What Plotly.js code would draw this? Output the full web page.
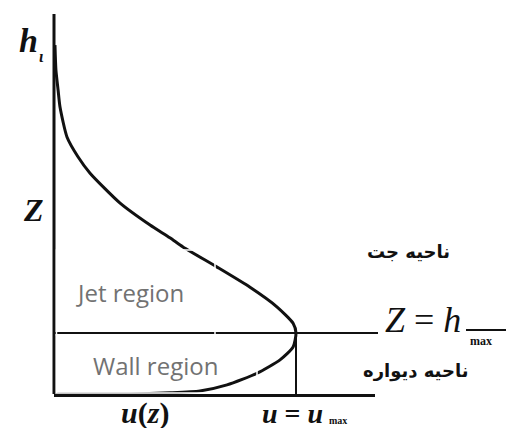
<!DOCTYPE html>
<html>
<head>
<meta charset="utf-8">
<script src="https://cdn.plot.ly/plotly-3.0.1.min.js"></script>
<style>html,body{margin:0;padding:0;background:#fff;}#chart{width:506px;height:428px;}</style>
</head>
<body>
<div id="chart"></div>
<script>
// Velocity profile u(z) of a wall jet, u normalised by u_max, z normalised by h_max
const profileU = [0.004, 0.008, 0.017, 0.025, 0.054, 0.099, 0.149, 0.273, 0.397, 0.479, 0.533, 0.674, 0.810, 0.921, 0.988, 1.000, 0.988, 0.934, 0.839, 0.715, 0.603, 0.479, 0.314, 0.149, 0.008];
const profileZ = [5.72, 5.31, 4.98, 4.70, 4.21, 3.89, 3.62, 3.13, 2.77, 2.56, 2.41, 2.08, 1.75, 1.43, 1.16, 1.00, 0.77, 0.56, 0.34, 0.15, 0.05, 0.02, 0.00, 0.00, 0.00];
const regionLabels = ["Jet region", "Wall region"];
const persianLabels = ["ناحیه جت", "ناحیه دیواره"];
const uMax = 1.0;
const zHmax = 1.0;

// pixel helpers (layout only)
const W = 506, H = 428;
const x0px = 54, uPx = 242, z0px = 394, zPx = 61;
const ux = px => (px - x0px) / uPx;
const zy = py => (z0px - py) / zPx;
const serif = "Liberation Serif, Times New Roman, serif";

function ann(text, px, py, size, extra) {
  return Object.assign({
    text: text, x: px / W, y: 1 - py / H, xref: 'paper', yref: 'paper',
    xanchor: 'center', yanchor: 'middle', showarrow: false,
    font: {family: serif, size: size, color: '#111'}
  }, extra || {});
}
function seg(u1, z1, u2, z2, w, c) {
  return {type: 'line', xref: 'x', yref: 'y', x0: u1, y0: z1, x1: u2, y1: z2,
          line: {color: c || '#111', width: w}, layer: 'above'};
}
function rect(u1, z1, u2, z2) {
  return {type: 'rect', xref: 'x', yref: 'y', x0: u1, y0: z1, x1: u2, y1: z2,
          line: {color: '#fff', width: 1.5}, fillcolor: 'rgba(0,0,0,0)', layer: 'above'};
}

const trace = {
  x: profileU, y: profileZ, mode: 'lines', type: 'scatter',
  line: {color: '#111', width: 3, shape: 'spline', smoothing: 0.6},
  hoverinfo: 'skip', showlegend: false, cliponaxis: false
};

const regionFont = {family: 'Open Sans, sans-serif', size: 24, color: '#727272'};
const faFont = {family: 'DejaVu Sans, sans-serif', size: 18, color: '#111'};

const layout = {
  width: W, height: H, margin: {l: 0, r: 0, t: 0, b: 0},
  paper_bgcolor: '#fff', plot_bgcolor: '#fff', showlegend: false,
  xaxis: {range: [ux(0), ux(W)], visible: false, fixedrange: true},
  yaxis: {range: [zy(H), zy(0)], visible: false, fixedrange: true},
  shapes: [
    seg(0, 0, 0, zy(14), 3),                 // z axis
    seg(0, zy(395.5), ux(375), zy(395.5), 3),// wall
    seg(0, zHmax, ux(378), zHmax, 2),        // Z = h_max line
    seg(ux(466), zy(330), ux(506), zy(330), 2),
    seg(uMax, 0, uMax, zHmax, 2),            // u = u_max
    rect(ux(56.5), zy(250), ux(215), zy(335)),
    rect(ux(56.5), zy(335), ux(257), zy(393))
  ],
  annotations: [
    ann('<b><i>h</i></b>', 28, 40, 34),
    ann('<b><i>ι</i></b>', 41, 56, 16),
    ann('<b><i>Z</i></b>', 33, 210, 32),
    ann(regionLabels[0], 130, 292, 24, {font: regionFont}),
    ann(regionLabels[1], 155, 365, 24, {font: regionFont}),
    ann('<b>' + persianLabels[0] + '</b>', 408, 252, 18, {font: faFont}),
    ann('<b>' + persianLabels[1] + '</b>', 415, 371, 18, {font: faFont}),
    ann('<i>Z</i> = <i>h</i>', 423, 320, 36),
    ann('<b>max</b>', 481, 341, 12, {font: {family: serif, size: 12, color: '#111'}}),
    ann('<b><i>u</i>(<i>z</i>)</b>', 145, 413, 30),
    ann('<b><i>u</i> = <i>u</i></b>', 292, 413, 28),
    ann('<b>max</b>', 338, 428, 10, {yanchor: 'bottom', font: {family: serif, size: 10, color: '#111'}})
  ]
};

Plotly.newPlot('chart', [trace], layout, {displayModeBar: false, staticPlot: true});
</script>
</body>
</html>
